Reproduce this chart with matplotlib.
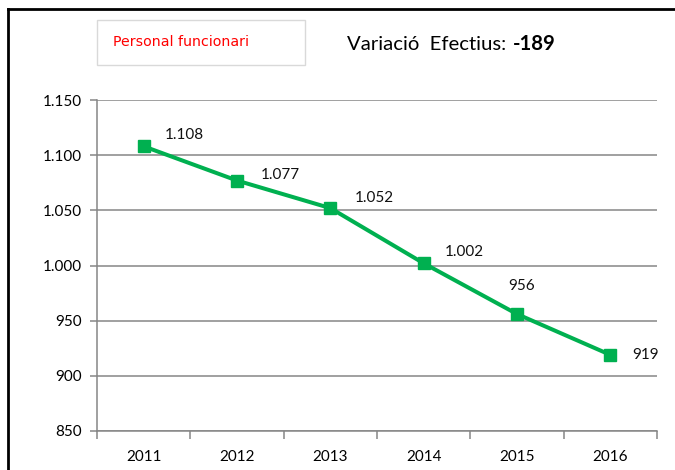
import matplotlib
matplotlib.use("Agg")
import matplotlib.pyplot as plt
from matplotlib.lines import Line2D
from matplotlib.patches import Rectangle

years = ["2011", "2012", "2013", "2014", "2015", "2016"]
values = [1108, 1077, 1052, 1002, 956, 919]
label_texts = ["1.108", "1.077", "1.052", "1.002", "956", "919"]
yticks = [850, 900, 950, 1000, 1050, 1100, 1150]
ytick_labels = ["850", "900", "950", "1.000", "1.050", "1.100", "1.150"]
title_box = "Personal funcionari"
variation_label = "Variació  Efectius:"
variation_value = "-189"

FONT = ["Lato", "DejaVu Sans"]
plt.rcParams['font.family'] = FONT

fig = plt.figure(figsize=(6.75, 4.7), dpi=100)
W, H = 675, 470
ax = fig.add_axes([97 / W, 1 - 431 / H, (657 - 97) / W, (431 - 100) / H])

x = list(range(len(years)))
green = "#00B050"
ax.plot(x, values, color=green, lw=2.9, marker="s", markersize=8,
        markerfacecolor=green, markeredgecolor=green, zorder=3, clip_on=False)

offsets = [(21, 11), (24, 6), (24, 10), (21, 11), (5, 28), (22, 0)]
for xi, v, t, off in zip(x, values, label_texts, offsets):
    ax.annotate(t, (xi, v), xytext=off, textcoords="offset pixels",
                ha="left" if off != (5, 28) else "center", va="center",
                fontsize=11, color="#111111")

ax.set_xlim(-0.5, 5.5)
ax.set_ylim(850, 1150)
ax.set_yticks(yticks)
ax.set_yticklabels(ytick_labels)
ax.set_xticks(x)
ax.set_xticklabels(years)
ax.set_xticks([i - 0.5 for i in range(len(years) + 1)], minor=True)
ax.tick_params(axis="x", which="major", length=0, pad=14, labelsize=11)
ax.tick_params(axis="x", which="minor", length=6, width=1.1, color="#868686")
ax.tick_params(axis="y", length=5, width=1.1, color="#868686", pad=6, labelsize=11)

ax.grid(axis="y", color="#868686", lw=1.1)
ax.set_axisbelow(True)
for s in ["top", "right"]:
    ax.spines[s].set_visible(False)
for s in ["left", "bottom"]:
    ax.spines[s].set_color("#868686")
    ax.spines[s].set_linewidth(1.1)

# outer frame (only top and left visible)
fig.add_artist(Line2D([8 / W, 8 / W], [0, 1 - 9 / H], transform=fig.transFigure,
                      color="black", lw=2))
fig.add_artist(Line2D([8 / W, 1], [1 - 9 / H, 1 - 9 / H], transform=fig.transFigure,
                      color="black", lw=2))

# title box
fig.add_artist(Rectangle((97 / W, 1 - 65 / H), 208 / W, 45 / H,
                         transform=fig.transFigure, fill=False,
                         edgecolor="#D9D9D9", lw=1))
fig.text(113 / W, 1 - 42 / H, title_box, color="#FF0000", fontsize=10.2,
         family=["DejaVu Sans"], va="center", ha="left")

fig.text(347 / W, 1 - 44 / H, variation_label, fontsize=14.6,
         va="center", ha="left", color="black")
fig.text(513 / W, 1 - 44 / H, variation_value, fontsize=14.6, fontweight="bold",
         va="center", ha="left", color="black")

fig.savefig("out.png", dpi=100)
